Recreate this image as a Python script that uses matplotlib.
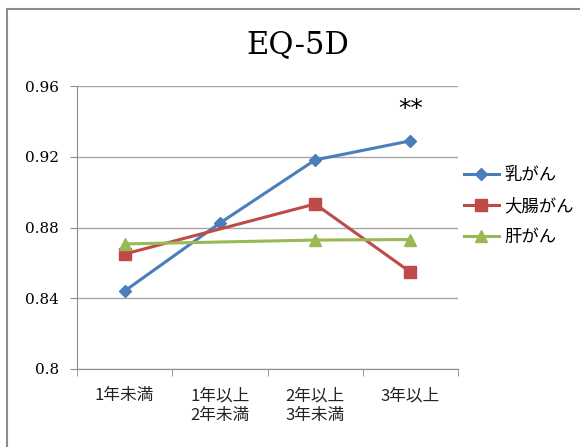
import matplotlib
matplotlib.use("Agg")
import matplotlib.pyplot as plt
import numpy as np
from matplotlib.patches import Rectangle
from matplotlib.lines import Line2D

categories = ["1年未満", "1年以上\n2年未満", "2年以上\n3年未満", "3年以上"]
breast = [0.8441, 0.8825, 0.9182, 0.9290]
colon = [0.8650, np.nan, 0.8933, 0.8548]
liver = [0.8707, np.nan, 0.8729, 0.8732]
series_names = ["乳がん", "大腸がん", "肝がん"]
yticks = [0.8, 0.84, 0.88, 0.92, 0.96]
ytick_labels = ["0.8", "0.84", "0.88", "0.92", "0.96"]

jp = ["Noto Sans CJK JP", "DejaVu Sans"]
serif = ["DejaVu Serif", "Noto Sans CJK JP"]

fig = plt.figure(figsize=(5.8, 4.47), dpi=100)
fig.patches.append(Rectangle((7/580, -0.1), 1.2, (447-9)/447 + 0.1, transform=fig.transFigure,
                             fill=False, edgecolor="#8c8c8c", linewidth=1.5, zorder=0))
ax = fig.add_axes([77/580, (447-369)/447, (458-77)/580, (369-86)/447])

x = np.arange(len(categories))
colors = ["#4a7ebb", "#be4b48", "#98b954"]
markers = ["D", "s", "^"]
msizes = [6.5, 8, 8.5]
handles = []
for vals, c, m, ms, name in zip([breast, colon, liver], colors, markers, msizes, series_names):
    v = np.array(vals, dtype=float)
    ok = ~np.isnan(v)
    ax.plot(x[ok], v[ok], color=c, lw=2.2, marker=m, ms=ms, mec=c, mfc=c, zorder=3)
    handles.append(Line2D([0], [0], color=c, lw=2.2, marker=m, ms=ms, mec=c, mfc=c))

ax.set_xlim(-0.5, len(categories) - 0.5)
ax.set_ylim(0.8, 0.96)
ax.set_yticks(yticks)
ax.set_yticklabels(ytick_labels, fontfamily=serif, fontsize=11)
ax.grid(axis="y", color="#a6a6a6", lw=1)
ax.set_axisbelow(True)
ax.set_xticks(x)
ax.set_xticklabels(categories, fontfamily=jp, fontsize=12, linespacing=1.2, va="top")
ax.set_xticks(np.arange(len(categories) + 1) - 0.5, minor=True)
ax.tick_params(axis="x", which="major", length=0, pad=13)
ax.tick_params(axis="x", which="minor", length=5, color="#8c8c8c")
ax.tick_params(axis="y", length=5, color="#8c8c8c", pad=8)
for s in ["top", "right"]:
    ax.spines[s].set_visible(False)
for s in ["left", "bottom"]:
    ax.spines[s].set_color("#8c8c8c")
for lbl in ax.get_xticklabels():
    lbl.set_color("#222222")

ax.text(3, 0.9472, "**", ha="center", va="center", fontsize=18, family="DejaVu Sans")
fig.text(298/580, 1 - 45/447, "EQ-5D", ha="center", va="center", fontsize=22, family="DejaVu Serif")

fig.legend(handles, series_names, loc="center left", bbox_to_anchor=(464/580, 1 - 206/447),
           frameon=False, prop={"family": jp, "size": 12.5}, handlelength=2.0,
           labelspacing=0.75, handletextpad=0.3, borderaxespad=0, borderpad=0)

fig.savefig("out.png", dpi=100)
